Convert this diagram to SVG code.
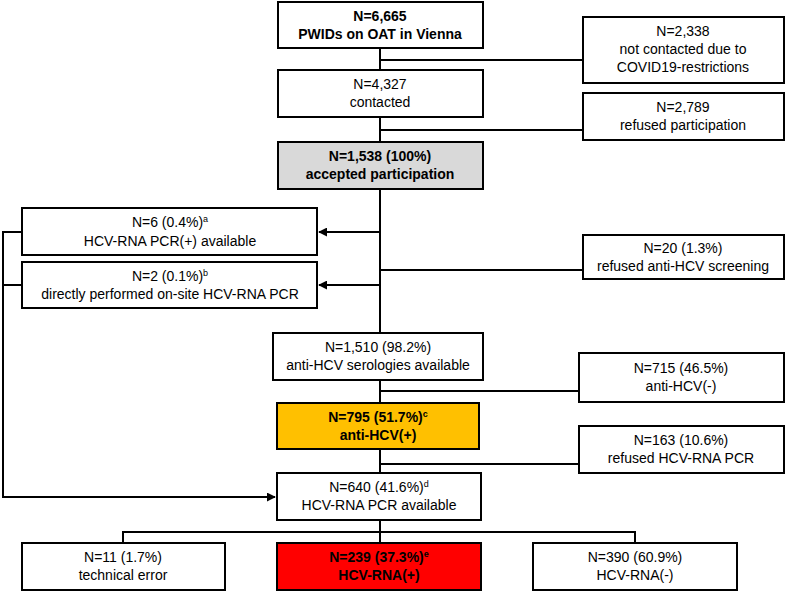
<svg xmlns="http://www.w3.org/2000/svg" width="787" height="592" viewBox="0 0 787 592">
<defs>
<style>
.b{fill:#fff;stroke:#000;stroke-width:2}
.t{font-family:"Liberation Sans",Arial,sans-serif;font-size:14px;text-anchor:middle;fill:#000}
.bold{font-weight:bold}
.c{fill:none;stroke:#000;stroke-width:2}
.s{font-size:9px}
</style>
<marker id="ah" viewBox="0 0 10 10" refX="9" refY="5" markerWidth="4.5" markerHeight="4.5" orient="auto" markerUnits="strokeWidth"><path d="M0,0L10,5L0,10z" fill="#000"/></marker>
</defs>
<rect width="787" height="592" fill="#fff"/>
<g id="connectors">
<path class="c" d="M380,48V543"/>
<path class="c" d="M380,60H583M380,130H583M380,270H583M380,391H579M380,464H579"/>
<path class="c" d="M380,232H319" marker-end="url(#ah)"/>
<path class="c" d="M380,285H319" marker-end="url(#ah)"/>
<path class="c" d="M22,232H3V497H275" marker-end="url(#ah)"/>
<path class="c" d="M22,285H3"/>
<path class="c" d="M123,543V532H635V543"/>
</g>
<g id="n1"><rect class="b" x="278" y="2" width="205" height="46"/><text class="t bold" x="380" y="21">N=6,665</text><text class="t bold" x="380" y="39">PWIDs on OAT in Vienna</text></g>
<g id="n2"><rect class="b" x="583" y="17" width="201" height="66"/><text class="t" x="683" y="36">N=2,338</text><text class="t" x="683" y="54">not contacted due to</text><text class="t" x="683" y="72">COVID19-restrictions</text></g>
<g id="n3"><rect class="b" x="278" y="70" width="205" height="47"/><text class="t" x="380" y="89">N=4,327</text><text class="t" x="380" y="107">contacted</text></g>
<g id="n4"><rect class="b" x="583" y="93" width="201" height="47"/><text class="t" x="683" y="112">N=2,789</text><text class="t" x="683" y="130">refused participation</text></g>
<g id="n5"><rect class="b" x="278" y="142" width="205" height="47" fill="#d9d9d9" style="fill:#d9d9d9"/><text class="t bold" x="380" y="161">N=1,538 (100%)</text><text class="t bold" x="380" y="179">accepted participation</text></g>
<g id="n6"><rect class="b" x="22" y="208" width="295" height="47"/><text class="t" x="170" y="227">N=6 (0.4%)<tspan class="s" dy="-5">a</tspan></text><text class="t" x="170" y="246">HCV-RNA PCR(+) available</text></g>
<g id="n7"><rect class="b" x="22" y="262" width="295" height="46"/><text class="t" x="170" y="281">N=2 (0.1%)<tspan class="s" dy="-5">b</tspan></text><text class="t" x="170" y="299">directly performed on-site HCV-RNA PCR</text></g>
<g id="n8"><rect class="b" x="583" y="235" width="201" height="44"/><text class="t" x="683" y="253">N=20 (1.3%)</text><text class="t" x="683" y="271">refused anti-HCV screening</text></g>
<g id="n9"><rect class="b" x="273" y="333" width="210" height="47"/><text class="t" x="378" y="352">N=1,510 (98.2%)</text><text class="t" x="378" y="370">anti-HCV serologies available</text></g>
<g id="n10"><rect class="b" x="579" y="353" width="205" height="49"/><text class="t" x="681" y="373">N=715 (46.5%)</text><text class="t" x="681" y="391">anti-HCV(-)</text></g>
<g id="n11"><rect class="b" x="277" y="403" width="202" height="46" style="fill:#ffc000"/><text class="t bold" x="378" y="422">N=795 (51.7%)<tspan class="s" dy="-5">c</tspan></text><text class="t bold" x="378" y="440">anti-HCV(+)</text></g>
<g id="n12"><rect class="b" x="579" y="426" width="205" height="47"/><text class="t" x="681" y="445">N=163 (10.6%)</text><text class="t" x="681" y="463">refused HCV-RNA PCR</text></g>
<g id="n13"><rect class="b" x="277" y="473" width="204" height="47"/><text class="t" x="379" y="492">N=640 (41.6%)<tspan class="s" dy="-5">d</tspan></text><text class="t" x="379" y="510">HCV-RNA PCR available</text></g>
<g id="n14"><rect class="b" x="22" y="543" width="203" height="47"/><text class="t" x="123" y="562">N=11 (1.7%)</text><text class="t" x="123" y="580">technical error</text></g>
<g id="n15"><rect class="b" x="277" y="543" width="204" height="47" style="fill:#ff0000"/><text class="t bold" x="379" y="562">N=239 (37.3%)<tspan class="s" dy="-5">e</tspan></text><text class="t bold" x="379" y="580">HCV-RNA(+)</text></g>
<g id="n16"><rect class="b" x="533" y="543" width="204" height="47"/><text class="t" x="635" y="562">N=390 (60.9%)</text><text class="t" x="635" y="580">HCV-RNA(-)</text></g>
</svg>
